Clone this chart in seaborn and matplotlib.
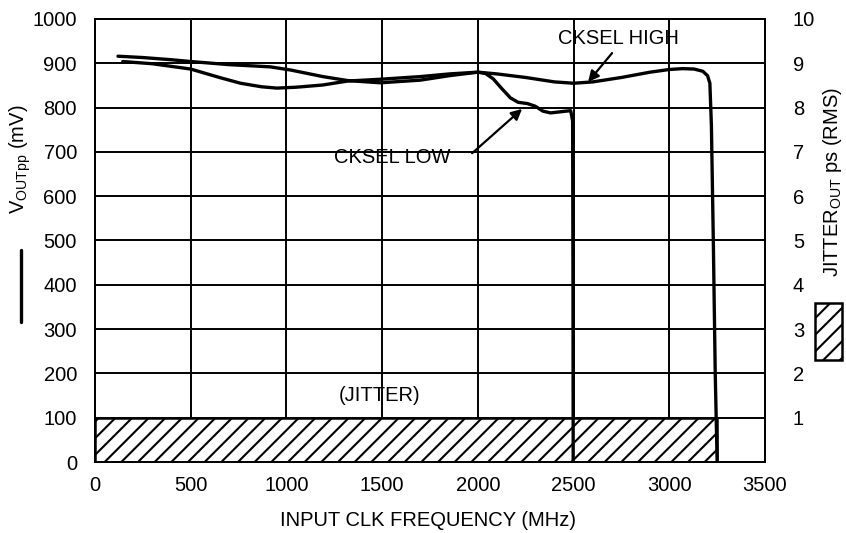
import numpy as np
import pandas as pd
import matplotlib
matplotlib.use("Agg")
import matplotlib.pyplot as plt
from matplotlib.lines import Line2D
from matplotlib.patches import Rectangle
import seaborn as sns

# CKSEL HIGH curve (MHz, mV)
high_freq = [120, 250, 400, 500, 700, 915, 1020, 1190, 1320, 1490, 1700, 1850, 2000,
             2100, 2250, 2400, 2500, 2600, 2750, 2900, 3000, 3070, 3130, 3175, 3200,
             3212, 3220, 3230, 3240, 3250]
high_mv = [916, 913, 908, 904, 897, 892, 885, 870, 861, 856, 862, 872, 880,
           876, 868, 858, 855, 858, 868, 880, 886, 888, 887, 882, 872,
           855, 760, 500, 200, 0]

# CKSEL LOW curve (MHz, mV)
low_freq = [145, 300, 500, 650, 760, 870, 950, 1050, 1190, 1320, 1490, 1700, 1850, 2000,
            2040, 2080, 2127, 2170, 2210, 2260, 2300, 2340, 2380, 2420, 2460, 2485,
            2495, 2497, 2498]
low_mv = [904, 899, 887, 868, 855, 847, 844, 846, 851, 860, 864, 870, 876, 880,
          877, 865, 842, 822, 812, 809, 803, 792, 788, 790, 792, 793,
          770, 400, 0]

# output jitter band (MHz, ps RMS)
jitter_freq = [0, 3250]
jitter_ps = [1, 1]

x_ticks = [0, 500, 1000, 1500, 2000, 2500, 3000, 3500]
y_ticks = [0, 100, 200, 300, 400, 500, 600, 700, 800, 900, 1000]
y2_ticks = [1, 2, 3, 4, 5, 6, 7, 8, 9, 10]

sns.set_style("white")
plt.rcParams['font.family'] = ['Liberation Sans', 'DejaVu Sans']
plt.rcParams['mathtext.fontset'] = 'custom'
plt.rcParams['mathtext.rm'] = 'Liberation Sans'
plt.rcParams['hatch.linewidth'] = 1.5
plt.rcParams['text.color'] = 'black'
plt.rcParams['xtick.color'] = 'black'
plt.rcParams['ytick.color'] = 'black'
FS = 14.5

fig = plt.figure(figsize=(8.46, 5.33), dpi=100)
ax = fig.add_axes([95 / 846, 1 - 462 / 533, 670 / 846, 443 / 533])
ax2 = ax.twinx()
# twin (jitter + grid) goes under the curves
ax2.set_zorder(0)
ax.set_zorder(1)
ax.patch.set_visible(False)

ax2.set_xlim(0, 3500)
ax2.set_ylim(0, 10)
ax2.set_yticks(y2_ticks)
ax2.grid(False)
ax.grid(False)
ax2.hlines(y2_ticks, 0, 3500, color='black', linewidth=1.4, zorder=0.5)
ax2.vlines(x_ticks, 0, 10, color='black', linewidth=1.4, zorder=0.5)

ax2.fill_between(jitter_freq, 0, jitter_ps, facecolor='white', edgecolor='black',
                 hatch='//', linewidth=1.8, zorder=2)

high = pd.DataFrame({'freq': high_freq, 'mv': high_mv})
low = pd.DataFrame({'freq': low_freq, 'mv': low_mv})
sns.lineplot(data=high, x='freq', y='mv', sort=False, estimator=None,
             color='black', linewidth=2.4, ax=ax)
sns.lineplot(data=low, x='freq', y='mv', sort=False, estimator=None,
             color='black', linewidth=2.4, ax=ax)

ax.set_xlim(0, 3500)
ax.set_ylim(0, 1000)
ax.set_xticks(x_ticks)
ax.set_yticks(y_ticks)
ax.set_xlabel('')
ax.set_ylabel('')
ax.tick_params(axis='both', length=0, labelsize=FS, colors='black')
ax.tick_params(axis='y', pad=13)
ax.tick_params(axis='x', pad=10)
ax2.tick_params(axis='y', length=0, labelsize=FS, pad=20, colors='black')
for a in (ax, ax2):
    for s in a.spines.values():
        s.set_color('black')
        s.set_linewidth(1.4)

# annotations
arrow = dict(arrowstyle='-|>', color='black', lw=1.6, mutation_scale=16, shrinkA=0, shrinkB=0)
ax.text(2732, 956, 'CKSEL HIGH', fontsize=FS, ha='center', va='center')
ax.annotate('', xy=(2576, 858), xytext=(2701, 923), arrowprops=arrow)
ax.text(1552, 688, 'CKSEL LOW', fontsize=FS, ha='center', va='center')
ax.annotate('', xy=(2231, 797), xytext=(1970, 697), arrowprops=arrow)
ax.text(1489, 150, '(JITTER)', fontsize=FS, ha='center', va='center')

# axis titles and legend keys
fig.text(20 / 846, 1 - 159 / 533, r'V$_{\mathregular{OUTpp}}$ (mV)', rotation=90,
         fontsize=FS, ha='center', va='center')
fig.add_artist(Line2D([21 / 846, 21 / 846], [1 - 250 / 533, 1 - 322 / 533],
                      color='black', linewidth=2.4, transform=fig.transFigure))
fig.text(832 / 846, 1 - 182 / 533, r'JITTER$_{\mathregular{OUT}}$ ps (RMS)', rotation=90,
         fontsize=FS, ha='center', va='center')
fig.add_artist(Rectangle((815 / 846, 1 - 360 / 533), 27 / 846, 57 / 533,
                         facecolor='white', edgecolor='black', hatch='//', linewidth=1.8,
                         transform=fig.transFigure))
fig.text(428 / 846, 1 - 520 / 533, 'INPUT CLK FREQUENCY (MHz)', fontsize=FS,
         ha='center', va='center')

fig.savefig('out.png', dpi=100)
